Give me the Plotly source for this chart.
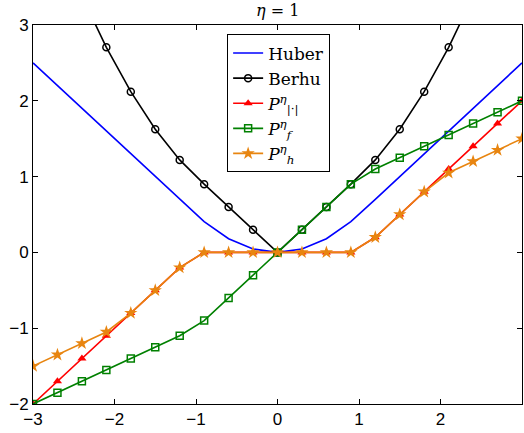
import plotly.graph_objects as go

x = [-3.0, -2.7, -2.4, -2.1, -1.8, -1.5, -1.2, -0.9, -0.6, -0.3, 0.0,
     0.3, 0.6, 0.9, 1.2, 1.5, 1.8, 2.1, 2.4, 2.7, 3.0]
huber = [2.5, 2.2, 1.9, 1.6, 1.3, 1.0, 0.7, 0.405, 0.18, 0.045, 0.0,
         0.045, 0.18, 0.405, 0.7, 1.0, 1.3, 1.6, 1.9, 2.2, 2.5]
berhu = [5.0, 4.145, 3.38, 2.705, 2.12, 1.625, 1.22, 0.9, 0.6, 0.3, 0.0,
         0.3, 0.6, 0.9, 1.22, 1.625, 2.12, 2.705, 3.38, 4.145, 5.0]
p_abs = [-2.0, -1.7, -1.4, -1.1, -0.8, -0.5, -0.2, 0.0, 0.0, 0.0, 0.0,
         0.0, 0.0, 0.0, 0.2, 0.5, 0.8, 1.1, 1.4, 1.7, 2.0]
p_f = [-2.0, -1.85, -1.7, -1.55, -1.4, -1.25, -1.1, -0.9, -0.6, -0.3, 0.0,
       0.3, 0.6, 0.9, 1.1, 1.25, 1.4, 1.55, 1.7, 1.85, 2.0]
p_h = [-1.5, -1.35, -1.2, -1.05, -0.8, -0.5, -0.2, 0.0, 0.0, 0.0, 0.0,
       0.0, 0.0, 0.0, 0.2, 0.5, 0.8, 1.05, 1.2, 1.35, 1.5]
x_ticks = [-3, -2, -1, 0, 1, 2, 3]
y_ticks = [-2, -1, 0, 1, 2, 3]

ORANGE = "rgb(232,133,16)"
GREEN = "rgb(0,128,0)"

fig = go.Figure()
fig.add_trace(go.Scatter(x=x, y=huber, mode="lines", name="Huber",
                         line=dict(color="blue", width=1.6)))
fig.add_trace(go.Scatter(x=x, y=berhu, mode="lines+markers", name="Berhu",
                         line=dict(color="black", width=1.6),
                         marker=dict(symbol="circle-open", size=7, color="black",
                                     line=dict(width=1.5))))
fig.add_trace(go.Scatter(x=x, y=p_abs, mode="lines+markers",
                         name="<i>P</i><sup><i>η</i></sup><sub>|·|</sub>",
                         line=dict(color="red", width=1.6),
                         marker=dict(symbol="triangle-up", size=8, color="red")))
fig.add_trace(go.Scatter(x=x, y=p_f, mode="lines+markers",
                         name="<i>P</i><sup><i>η</i></sup><sub><i>f</i></sub>",
                         line=dict(color=GREEN, width=1.6),
                         marker=dict(symbol="square-open", size=7, color=GREEN,
                                     line=dict(width=1.5))))
fig.add_trace(go.Scatter(x=x, y=p_h, mode="lines+markers",
                         name="<i>P</i><sup><i>η</i></sup><sub><i>h</i></sub>",
                         line=dict(color=ORANGE, width=1.6),
                         marker=dict(symbol="star", size=10, color=ORANGE)))

axis_common = dict(showgrid=False, zeroline=False, showline=True, linecolor="black",
                   linewidth=1, mirror="ticks", ticks="inside", ticklen=5,
                   tickcolor="black", tickfont=dict(family="Liberation Sans", size=17,
                                                    color="black"))
fig.update_xaxes(range=[-3, 3], tickvals=x_ticks, **axis_common)
fig.update_yaxes(range=[-2, 3], tickvals=y_ticks, **axis_common)

fig.update_layout(
    width=524, height=433,
    margin=dict(l=33, r=2, t=25, b=29),
    paper_bgcolor="white", plot_bgcolor="white",
    title=dict(text="<i>η</i> = 1", x=0.53, xanchor="center", y=0.976, yanchor="middle",
               font=dict(family="DejaVu Serif", size=16, color="black")),
    legend=dict(x=0.397, y=0.975, xanchor="left", yanchor="top",
                bgcolor="white", bordercolor="black", borderwidth=1,
                font=dict(family="DejaVu Serif", size=17, color="black"),
                tracegroupgap=0, itemwidth=30),
    showlegend=True,
)

fig.write_html("out.html")
